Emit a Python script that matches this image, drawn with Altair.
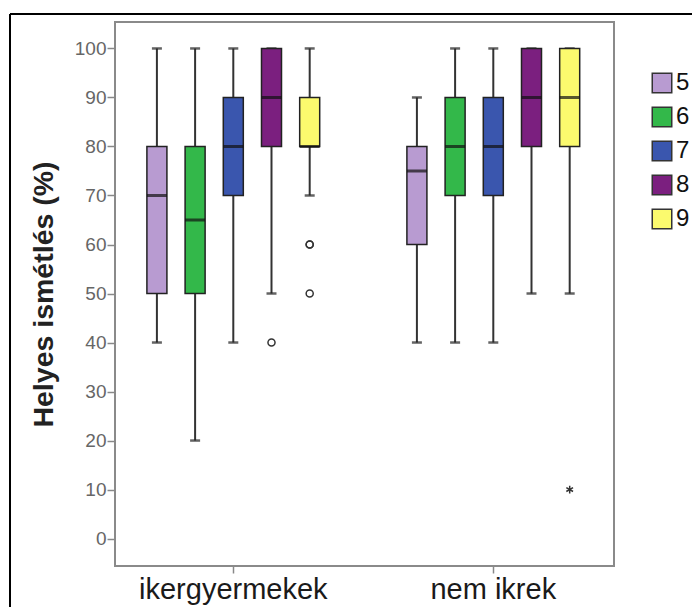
import altair as alt
import pandas as pd

# ---- data ----
group_order = ["ikergyermekek", "nem ikrek"]
age_order = ["5", "6", "7", "8", "9"]
age_colors = ["#b89bd1", "#33b84a", "#3a56ae", "#7b1f7f", "#fbfa6e"]

box_group = ["ikergyermekek"] * 5 + ["nem ikrek"] * 5
box_age = ["5", "6", "7", "8", "9"] * 2
whisker_lo = [40, 20, 40, 50, 70, 40, 40, 40, 50, 50]
quart_1 = [50, 50, 70, 80, 80, 60, 70, 70, 80, 80]
median = [70, 65, 80, 90, 80, 75, 80, 80, 90, 90]
quart_3 = [80, 80, 90, 100, 90, 80, 90, 90, 100, 100]
whisker_hi = [100, 100, 100, 100, 100, 90, 100, 100, 100, 100]

out_group = ["ikergyermekek", "ikergyermekek", "ikergyermekek", "ikergyermekek"]
out_age = ["8", "9", "9", "9"]
out_val = [40, 60, 60, 50]

ext_group = ["nem ikrek"]
ext_age = ["9"]
ext_val = [10]

y_title = "Helyes ismétlés (%)"

box = pd.DataFrame(dict(group=box_group, age=box_age, lo=whisker_lo, q1=quart_1,
                        med=median, q3=quart_3, hi=whisker_hi))
outl = pd.DataFrame(dict(group=out_group, age=out_age, v=out_val))
ext = pd.DataFrame(dict(group=ext_group, age=ext_age, v=ext_val))
frame_df = pd.DataFrame({"k": [0]})

FONT = "Liberation Sans"

xenc = alt.X("group:N", sort=group_order,
             scale=alt.Scale(range=[-11.7, 508.3], paddingInner=0, paddingOuter=0),
             axis=alt.Axis(title=None, labelAngle=0, labelFontSize=29, labelFont=FONT,
                           labelColor="#1a1a1a", labelLimit=0, domain=False, tickColor="#888",
                           tickSize=7, tickWidth=1.5, labelPadding=2))
xoff = alt.XOffset("age:N", sort=age_order,
                   scale=alt.Scale(range=[43.6, 216.4], paddingInner=0.476, paddingOuter=0))
yscale = alt.Scale(domain=[-5.6, 105.4], nice=False, zero=False)
yaxis = alt.Axis(title=y_title, values=list(range(0, 101, 10)), grid=False, domain=False,
                 tickColor="#888", tickSize=8, tickWidth=1.5, labelFontSize=19,
                 labelFont=FONT, labelColor="#666", labelPadding=1,
                 titleFont=FONT, titleFontSize=28.5, titleFontWeight="bold",
                 titleColor="#222", titlePadding=16)


def Y(field):
    return alt.Y(f"{field}:Q", scale=yscale, axis=yaxis, title=y_title)


base = alt.Chart(box)

whisk = base.mark_rule(color="#333", strokeWidth=2).encode(
    x=xenc, xOffset=xoff, y=Y("lo"), y2="hi:Q")
cap_lo = base.mark_tick(orient="horizontal", size=10, thickness=2.5, color="#222").encode(
    x=xenc, xOffset=xoff, y=Y("lo"))
cap_hi = base.mark_tick(orient="horizontal", size=10, thickness=2.5, color="#222").encode(
    x=xenc, xOffset=xoff, y=Y("hi"))
bars = base.mark_bar(stroke="#222", strokeWidth=1.5).encode(
    x=xenc, xOffset=xoff, y=Y("q1"), y2="q3:Q",
    color=alt.Color("age:N", sort=age_order,
                    scale=alt.Scale(domain=age_order, range=age_colors),
                    legend=alt.Legend(title=None, orient="none", legendX=535, legendY=49,
                                      symbolType="square", symbolSize=380,
                                      symbolStrokeColor="#333", symbolStrokeWidth=1.5,
                                      labelFontSize=24, labelFont=FONT, labelColor="#111",
                                      rowPadding=8, labelOffset=2)))
med_t = base.mark_tick(orient="horizontal", size=20, thickness=3, color="#111").encode(
    x=xenc, xOffset=xoff, y=Y("med"))
outs = alt.Chart(outl).mark_point(shape="circle", filled=False, size=50, color="#333",
                                  strokeWidth=1.5, opacity=1).encode(
    x=xenc, xOffset=xoff, y=Y("v"))
star = alt.Chart(ext).mark_point(
    shape="M0,-1L0,1M-0.866,-0.5L0.866,0.5M-0.866,0.5L0.866,-0.5",
    filled=False, size=60, color="#333", strokeWidth=1.5, opacity=1).encode(
    x=xenc, xOffset=xoff, y=Y("v"))

frame_left = alt.Chart(frame_df).mark_rule(color="#000", strokeWidth=2).encode(
    x=alt.value(-105), y=alt.value(-8), y2=alt.value(620))
frame_top = alt.Chart(frame_df).mark_rule(color="#000", strokeWidth=2).encode(
    x=alt.value(-105), x2=alt.value(700), y=alt.value(-8))

chart = alt.layer(whisk, cap_lo, cap_hi, bars, med_t, outs, star, frame_left, frame_top).properties(
    width=499, height=544,
    autosize=alt.AutoSizeParams(type="none"),
    padding={"left": 107, "top": 14, "right": 78, "bottom": 41},
    background="white",
).configure_view(stroke="#8a8a8a", strokeWidth=2)

chart.save("out.html", embed_options={"renderer": "svg", "actions": False})
